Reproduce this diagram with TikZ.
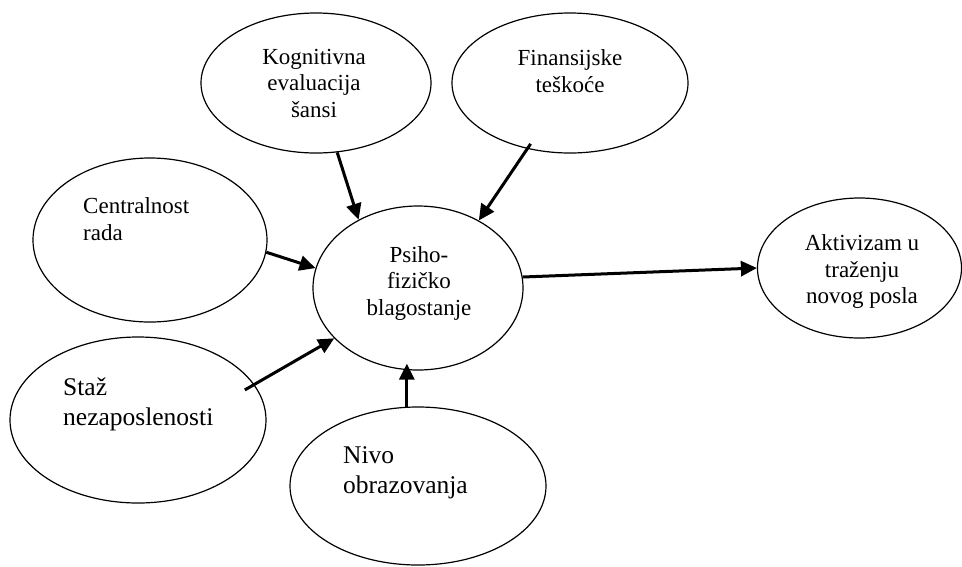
\documentclass[tikz,border=0pt]{standalone}
\usepackage{fontspec}
\setmainfont{Liberation Serif}
\usetikzlibrary{shapes.geometric,arrows.meta}
\begin{document}
\begin{tikzpicture}[x=1pt,y=-1pt,
  bubble/.style={ellipse,draw,line width=1.2pt,inner sep=0pt},
  lbl/.style={font=\fontsize{23}{26.5}\selectfont,align=center,inner sep=0pt},
  lblbig/.style={font=\fontsize{25.5}{30}\selectfont,align=left,inner sep=0pt,anchor=west},
  link/.style={line width=3pt,-{Triangle[length=16pt,width=15pt]}}]
\useasboundingbox (0,0) rectangle (962,566);

% ellipses
\node[bubble,minimum width=230pt,minimum height=140pt] (kog) at (316,83) {};
\node[bubble,minimum width=236pt,minimum height=140pt] (fin) at (570,83) {};
\node[bubble,minimum width=234pt,minimum height=164pt] (cen) at (150,240) {};
\node[bubble,minimum width=210pt,minimum height=164pt] (psi) at (418,288) {};
\node[bubble,minimum width=204pt,minimum height=140pt] (akt) at (859.5,268) {};
\node[bubble,minimum width=256pt,minimum height=166pt] (staz) at (138,420) {};
\node[bubble,minimum width=256pt,minimum height=158pt] (nivo) at (418,486) {};

% labels
\node[lbl] (kogt) at (314,83) {Kognitivna\\evaluacija\\šansi};
\node[lbl] (fint) at (570,71) {Finansijske\\teškoće};
\node[lbl,align=left,anchor=west] (cent) at (83,219) {Centralnost\\rada};
\node[lbl] (psit) at (419,283) {Psiho-\\fizičko\\blagostanje};
\node[lbl] (aktt) at (862,271.5) {Aktivizam u\\traženju\\novog posla};
\node[lblbig] (stazt) at (63,404) {Staž\\nezaposlenosti};
\node[lblbig] (nivot) at (343,473) {Nivo\\obrazovanja};

% influences
\draw[link] (kog.-73) -- (psi.131);
\draw[link,shorten <=-6pt] (fin.237.6) -- (psi.48);
\draw[link] (cen.-6) -- (psi.169);
\draw[link,shorten <=-11pt] (staz.17.4) -- (psi.211.7);
\draw[link,shorten >=-7pt] (nivo.98) -- (nivo.98 |- psi.south);
\draw[link] (psi.6) -- (akt.180);
\end{tikzpicture}
\end{document}
